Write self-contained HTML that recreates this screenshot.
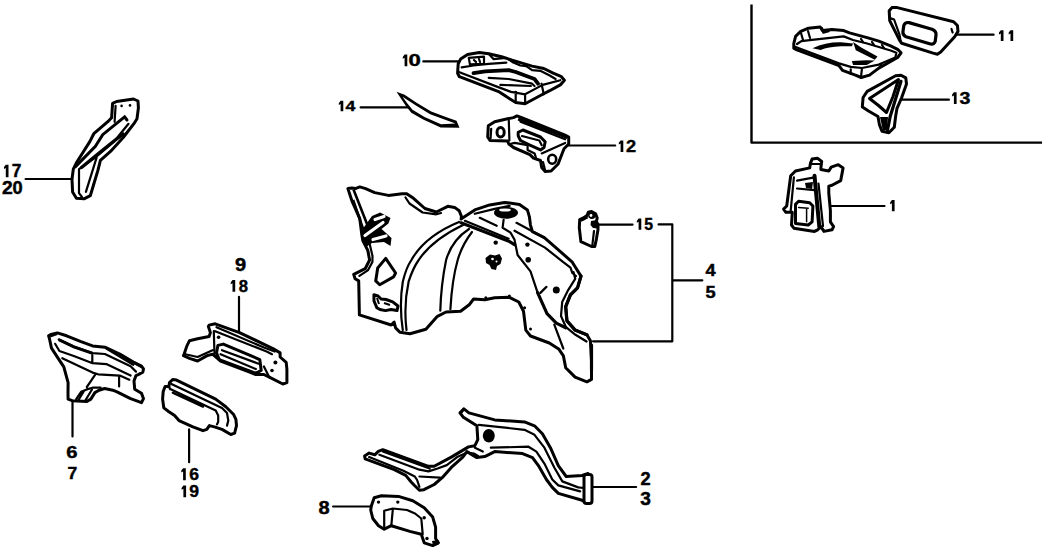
<!DOCTYPE html>
<html><head><meta charset="utf-8">
<style>
html,body{margin:0;padding:0;background:#fff;}
body{width:1051px;height:554px;overflow:hidden;position:relative;}
svg{position:absolute;left:0;top:0;}
.o{fill:#fff;stroke:#000;stroke-width:3;stroke-linejoin:round;stroke-linecap:round;}
.l{fill:none;stroke:#000;stroke-width:2.2;stroke-linecap:round;stroke-linejoin:round;}
.k{fill:#000;stroke:none;}
text{font-family:"Liberation Sans",sans-serif;font-weight:bold;font-size:18px;fill:#000;stroke:#000;stroke-width:0.45;}
</style></head><body>
<svg width="1051" height="554" viewBox="0 0 1051 554">
<!-- labels -->
<path class="k" d="M5.8 164.7H8.5V177.3H5.8V167.9L4.0 168.9V167.1Z"/>
<text transform="translate(11.64 177.30) scale(0.963 0.969)">7</text>
<text transform="translate(2.12 194.40) scale(1.075 0.969)">2</text>
<text transform="translate(12.39 194.40) scale(1.012 0.969)">0</text>
<text transform="translate(234.89 271.10) scale(1.113 0.969)">9</text>
<path class="k" d="M232.5 280.0H235.2V291.8H232.5V283.2L230.7 284.2V282.4Z"/>
<text transform="translate(238.67 291.80) scale(0.925 0.908)">8</text>
<text transform="translate(66.18 457.50) scale(1.125 0.938)">6</text>
<text transform="translate(67.53 478.60) scale(0.975 0.877)">7</text>
<path class="k" d="M183.1 468.2H185.8V480.3H183.1V471.4L181.3 472.4V470.6Z"/>
<text transform="translate(189.23 480.30) scale(0.975 0.931)">6</text>
<path class="k" d="M183.4 485.5H186.1V497.3H183.4V488.7L181.6 489.7V487.9Z"/>
<text transform="translate(189.23 497.30) scale(0.975 0.908)">9</text>
<text transform="translate(318.59 514.00) scale(1.113 1.046)">8</text>
<path class="k" d="M404.6 54.6H407.3V66.3H404.6V57.8L402.8 58.8V57.0Z"/>
<text transform="translate(408.47 66.30) scale(1.225 0.900)">0</text>
<path class="k" d="M340.6 100.8H343.3V111.2H340.6V104.0L338.8 105.0V103.2Z"/>
<text transform="translate(345.61 111.20) scale(0.988 0.800)">4</text>
<path class="k" d="M620.6 140.4H623.3V151.9H620.6V143.6L618.8 144.6V142.8Z"/>
<text transform="translate(625.89 151.90) scale(1.013 0.885)">2</text>
<path class="k" d="M638.6 218.5H641.3V229.8H638.6V221.7L636.8 222.7V220.9Z"/>
<text transform="translate(644.23 229.80) scale(0.875 0.869)">5</text>
<text transform="translate(705.39 276.30) scale(1.013 0.877)">4</text>
<text transform="translate(705.39 298.20) scale(1.013 0.908)">5</text>
<text transform="translate(640.39 484.90) scale(1.013 0.969)">2</text>
<text transform="translate(640.34 504.80) scale(1.062 0.969)">3</text>
<path class="k" d="M1000.8 30.2H1003.5V41.1H1000.8V33.4L999.0 34.4V32.6Z"/>
<path class="k" d="M1010.5 30.2H1013.2V41.1H1010.5V33.4L1008.7 34.4V32.6Z"/>
<path class="k" d="M953.9 92.2H956.6V104.0H953.9V95.4L952.1 96.4V94.6Z"/>
<text transform="translate(959.41 104.00) scale(1.088 0.908)">3</text>
<path class="k" d="M891.9 200.1H894.6V211.2H891.9V203.3L890.1 204.3V202.5Z"/>
<!-- leaders -->
<path class="l" d="M25.6 179H72 M239 296.8V332 M72.5 401V436.5 M189.1 429.4V462.2 M333.1 506.5H371.4 M423.3 61.4H458.5 M360.6 107.3H410 M567.9 145.5H615.2 M597 224.6H632.6 M658.6 224.4H672.3V341.3H593 M672.9 280.3H702.3 M592 487H636.1 M954.3 34.7H993.6 M901.5 99.7H948.9 M830.9 206H884.5"/>
<!-- box -->
<path d="M751.5 4.6V142.6H1042" fill="none" stroke="#000" stroke-width="2.4" stroke-linejoin="round"/>

<!-- part 17/20 -->
<path class="o" d="M76.4 198.2 L72.6 191.9 L72 179.2 L73.3 169.1 L76.4 162.8 L89.8 141.6 L93.8 133.7 L108.7 120.8 L111.6 117.8 L112.6 103.4 L116.6 101.5 L133.5 99 L138 101 L138.4 107.9 L137 118.8 L134.5 122.8 L123.2 137.5 L110.5 151.4 L100.4 160.3 L97.9 170.4 L90.3 195.7 L84 198.8 Z"/>
<path class="l" d="M115.6 105.9 L114.6 121.8 M79 169.1 L79 193.1 L82 197 M85.9 191.9 L96.6 157.7 M79 169.1 L96.6 156.5 L114.3 141.3 L128.5 123.8"/>
<path fill="none" stroke="#000" stroke-width="3" stroke-linecap="round" d="M75.5 166.6 L95.4 146.4 L102.7 134.7 L124.6 116.8 L127 120"/>
<path fill="none" stroke="#000" stroke-width="3.4" stroke-linecap="round" d="M81.5 167.5 L97.9 154 L114 141 L123.2 134"/>
<circle class="k" cx="121.6" cy="105.9" r="1.3"/><circle class="k" cx="130" cy="105.4" r="1.3"/>
<!-- part 6/7 -->
<path class="o" d="M48.6 335.8 L50.8 334.4 L57.3 332.9 L66.6 335.8 L81 341.6 L92.6 345.9 L104.9 347.2 L119.8 354 L133.3 362.1 L141.5 366.2 L143.5 368.9 L142.8 372.2 L138.8 374.3 L136 375.6 L134 381 L134.7 389.2 L141.5 393.2 L143.5 398.7 L141.5 402.7 L130.6 398.7 L117 391.9 L112.8 390.2 L104.6 388.5 L99 390.2 L94.9 392.6 L90.8 399.1 L86.8 401.5 L72.2 400.7 L68.1 399.1 L68 394.2 L68.1 382.7 L63.8 366.8 L58 358.2 L51.5 348.1 L49.3 338 Z"/>
<path class="l" d="M58.7 339.4 L73.8 346.6 L92.6 353.1 L104.9 354 L130.6 366.2 L136 371.6 M106.3 348.5 L133.3 364.8 M55.1 343.8 L59.4 351 L73.8 356 L92.6 363.2 L106.3 364.1 L130.6 375.6 M62.3 358.2 L92.6 372.6 L98.1 374.3 L119.8 375.6 L129.3 379.7 M119.1 377 V386.5 M92.3 355.3 V362.1 M95.4 374.3 L90 382.4 L86.8 387 M76.2 399.1 L81.1 391.8 L86.8 389.4 L92.5 387.7 L100.6 387.7 M78.5 400 L84 391 M85 401 L92 389.5"/>
<path fill="none" stroke="#000" stroke-width="3" d="M50 336 L57 333.5 M58.7 339.6 L73.8 346.8 L92.6 353.3 M133 362 L142 367"/>
<!-- part 9/18 -->
<path class="o" d="M209.1 325.1 L215.2 323.8 L239.5 332.6 L273.4 348.8 L280.1 352.9 L280.1 357 L286.2 362.4 L286.9 369.1 L286.9 382.6 L282.8 384 L269.3 377.2 L263.9 374.5 L255.8 374.5 L249 371.8 L220.6 361 L212.5 354.2 L207.1 355.6 L197.6 361 L189.5 358.3 L183.4 355.6 L184.1 354.2 L186.8 346.1 L189.5 340.7 L197.6 338.7 L209.1 336.6 L210.4 332.6 L208.4 326.5 Z"/>
<path class="l" d="M216.5 327.2 L263.9 347.5 L274.7 351.5 M215.2 331.2 L266.6 351.5 L272 354.2 M213.8 331.2 L214.5 354.2 M185.4 354.2 L197.6 357 L212.5 350.2 M263.9 366.4 L269.3 377.2 M222 350.2 L258.5 363.7 M220.6 354.2 L255.8 369.1"/>
<path class="o" d="M217.9 345.4 L223.3 344.1 L259.8 359.6 L261.2 370.5 L255.8 373.2 L219.2 359.6 L216.5 352.9 Z" style="fill:none"/>
<circle class="k" cx="218.6" cy="337.3" r="1.8"/><circle class="k" cx="275.4" cy="362.4" r="2"/><circle class="k" cx="272" cy="370.5" r="1.8"/>
<!-- part 16/19 -->
<path class="o" d="M169.5 382.6 L172.7 379.5 L176.5 380.1 L215.7 399.1 L225.8 406.7 L233.4 414.2 L235.9 419.3 L236.5 425.6 L234.6 433.2 L230.8 434.5 L222 429.4 L214.4 426.9 L209.4 425.6 L206.8 429.4 L203 430.7 L192.9 426.9 L179 420.6 L174.6 415.5 L168.9 411.7 L163.8 407.9 L162.6 399.1 L163.2 391.5 L165.1 386.4 L168.9 386.4 Z"/>
<path class="l" d="M171.4 383.9 L222 407.9 L227 413 L228.3 420.6 L227 425.6 M170.2 389 L215.7 410.4 L218.2 415.5 L218.2 421.8 L217 424.4 M172.7 392.8 L203 406.7 M169 386.5 L170 389"/>
<!-- part 10 -->
<path class="o" d="M458.2 63.8 L457.6 73.2 L459.4 76.7 L499.3 91.9 L506.3 96.6 L515.7 102.5 L525.1 103.7 L542.7 94.3 L549.7 90.7 L560.3 84.9 L564.4 80.2 L561.4 76.7 L553.2 73.2 L543.8 68.5 L532.1 66.1 L520.4 62.6 L512.2 60.2 L501.6 56.7 L488.7 53.8 L479.3 52.6 L467.6 54.4 L460.6 59.1 Z"/>
<path class="l" d="M488.7 53.8 L493.4 59.1 L506.3 57.9 L513.3 62.6 L520.4 65.5 L526.2 66.1 L532.1 70.2 L540.3 70.8 L549.7 75.5 L555.6 79 M488.7 77.8 L508.7 79 L532.1 83.7 L534.5 86 M500.4 84.9 L530.9 86 M461.7 67.3 L473.5 65.5 L488.7 63.8 L506.3 62.6 M468.8 57.9 L484 56.7 L484 63.8 L469.9 64.4 Z M458.8 72 L496.9 86.6 L511 91.9 L525.1 94.3 L542.7 84.9 L560.3 80.2 M515.7 91.9 L515.7 101.3 M525.1 94.3 L525.1 103 M541.5 83.7 L543.8 94.3 M474 60 L476 62 M479 59 L480 62"/>
<path fill="none" stroke="#000" stroke-width="3.8" stroke-linejoin="round" stroke-linecap="round" d="M473.5 73.2 L485.2 71.4 L508.7 70.2 L515.7 72 L534.5 79 L538 83.7"/>
<!-- part 14 -->
<path class="k" d="M396.5 91.8 L404.6 94.8 L416.6 102.8 L431.2 111.5 L447.2 117.5 L456.5 120.8 L459.5 127.8 L440.6 127.4 L423.2 119.4 L411.3 112.8 L405.9 106 Z"/>
<path fill="#fff" d="M402.5 96.8 L415.5 105.3 L430.2 114.2 L446.5 120.2 L455.5 123.6 L441 124.2 L424.5 117 L412.5 109.8 L407 103 Z"/>
<!-- part 12 -->
<path class="o" d="M488.3 125.8 L487.7 137 L490 140.5 L507.6 141.1 L508.8 144 L513.5 147.5 L529.9 154.6 L533.5 158.1 L540.5 160.5 L541.7 167.5 L545.2 171.6 L551.1 171 L558.1 164 L564 148.7 L568.7 144 L568.7 137 L565.1 135.2 L521.7 117.6 L517 115.9 L513.5 117.6 L507.6 118.8 L494.7 121.7 Z"/>
<path class="l" d="M508.8 120.6 L509.4 140.5 M491.2 128.8 L490.6 138.2 M520.5 121.7 L565.1 139.3 M522 136 L539.3 140.5 L541.7 145.2 M510 144 L514.7 142.9 L527.6 145.2 L527.6 149.9 L534.6 153.4 L536 158 M541.7 153.4 L565.1 142.9 M543 162 L545 170"/>
<path fill="none" stroke="#000" stroke-width="3.2" stroke-linejoin="round" d="M518.2 119 L567.5 137.5"/>
<path class="o" d="M518.2 132.3 L522.9 130 L540.5 137 L545.2 141.7 L544 147.5 L540.5 149.9 L529.9 145.2 L520.5 140.5 L518.2 135.8 Z" style="fill:none"/>
<ellipse cx="500.6" cy="132.3" rx="3.6" ry="4.8" fill="#fff" stroke="#000" stroke-width="3"/>
<ellipse cx="552.2" cy="159.3" rx="4" ry="4.5" fill="#fff" stroke="#000" stroke-width="2.6"/>
<!-- part 4/5 big -->
<path class="o" d="M347.9 188.6 L351.9 188 L355.3 188.6 L359.8 186.9 L365.6 188.6 L374.7 192.6 L388.4 195.4 L402.1 193.7 L406.7 193.7 L413.5 198.3 L424.9 208.5 L436.3 212 L447.8 206.3 L454.6 207.4 L459.2 210.8 L461.5 216.5 L461.1 219 L462.9 217.8 L474.8 209.9 L489.7 204.9 L504.6 202.4 L519.5 204.4 L527.4 209.9 L529.4 216.8 L530.4 224.8 L532.4 231.7 L544.3 237.7 L556.1 247.8 L572.3 262.2 L575.1 266.7 L581 276.1 L577.5 287.9 L570.4 294.9 L565.7 306.6 L566.9 320.7 L575.1 330.1 L586.9 334.8 L590.4 340.7 L591.5 360.6 L591.5 379.4 L586.9 381.8 L575.1 377.1 L565.7 367.7 L563.4 355.9 L558.7 348.9 L549.3 343 L530.5 336 L525.8 330.1 L523.5 311.3 L518.8 302 L509.4 297.3 L494.7 297.8 L484.8 299.8 L473.6 299 L469.2 304.8 L460.6 311.3 L446.1 312 L437.4 316.3 L425.9 329.3 L410 333.7 L399.9 332.2 L395.6 327.9 L394.1 322.1 L391.2 325 L359.4 314.9 L358.7 280.9 L355.1 278.8 L353.7 274.4 L365.2 268.7 L369.6 260 L367.8 250.4 L362.8 240.5 L361.8 234.5 L359.8 218.7 L351.9 200.8 Z"/>
<path class="l" d="M405.5 197.5 L409.5 203.5 L422.6 212.5 L436.3 214.3 L441 213 M369.8 244.5 L372.5 256 L372.4 262 L368.1 270.1 L359.4 275.9 M573.5 272 L575.2 278.8 L568.3 289.8 L562.2 302 L561 316 L566 327.2 L575.5 334.8 L586.5 341.5 M474.8 213.8 L494.7 208.9 L509.6 205.9 M464.9 220.8 L508.6 238.7 M479.8 217.8 L496.7 225.8 M503.6 219.8 L502.6 227.7 L510.6 232.7 L514.5 239.6 L517.6 255 L530.5 271.4 L537.6 292.6 M516.5 222.8 L544.3 237.7 M514.5 230.7 L545 247.6 L563.3 262.2 L570.5 267.6 L572.3 273 L576 276 M554.3 324.7 L563.3 348.5 M540.4 292.9 L546.4 286.9 M402.8 330 Q399 305 402.8 281.7 Q406 268 411.4 260 Q425 236 459 222 M406.5 330 Q403.5 305 408.6 281.7 Q413 268 418.7 260 Q432 240 463 225 M440.3 310.6 Q441 285 446.1 260 Q452 240 469 229 M450.4 309.1 Q452 280 457.7 260 Q462 245 472 232"/>
<path fill="none" stroke="#000" stroke-width="3.2" stroke-linejoin="round" stroke-linecap="round" d="M461 222.8 L509.6 241.6 L514.5 244.6 M537.6 292.6 L547 313.7 L556.3 323.1 L565.7 327.8 M581 276.1 L577.5 287.9 L570.4 294.9 L565.7 306.6 L566.9 320.7 L575.1 330.1 L586.9 334.8 M591.5 345 L591.5 370"/>
<path class="k" d="M362 230 L372 216 L380.2 212.6 L390.5 218 L388.4 223.5 L381.5 229 L386.6 233.5 L391.5 238 L390.5 246 L384 242 L372 243 L366 247 L361.5 239 Z"/>
<path fill="none" stroke="#fff" stroke-width="3.2" stroke-linecap="round" d="M365 235.5 L383 222.5 M373 239.5 L386 236 M375 219.5 L384 216.5"/>
<path fill="none" stroke="#000" stroke-width="2.6" d="M353.1 200 L363.1 228.9 M353.5 189.5 L367.8 226"/>
<path class="o" d="M385.7 258.4 L395.6 273 L393.6 276.9 L379.7 284.8 L375.7 280.9 L377.7 268 Z"/>
<path fill="#fff" stroke="#000" stroke-width="3" stroke-linejoin="round" d="M373.9 294.7 L378 296 L381.1 299 L386 299.5 L392.7 301.9 L398 306 L397 310.6 L391 309.5 L385.4 310.6 L380 309.5 L376.8 307.7 L374 301 Z"/><path fill="none" stroke="#000" stroke-width="2" d="M377 298 L379 304 M384 303 L390 305"/>
<ellipse class="k" cx="506" cy="212.8" rx="12" ry="6"/>
<ellipse cx="505" cy="210" rx="6" ry="1.6" fill="#fff"/>
<circle class="k" cx="495.7" cy="242.6" r="2.2"/><circle class="k" cx="527.4" cy="244.6" r="2.2"/><circle class="k" cx="528.2" cy="259.7" r="2.8"/>
<path class="k" d="M485.5 258 L490 254.5 L495 255.5 L499.5 254 L502 258.5 L500.5 264 L497 266 L496 270 L491.5 269 L489.5 265 L486 263 Z"/><circle cx="492.5" cy="259" r="1.3" fill="#fff"/><circle cx="496.5" cy="261.5" r="1" fill="#fff"/>
<circle class="k" cx="556.3" cy="289.9" r="3.5"/>
<circle class="k" cx="485.8" cy="297.8" r="1.5"/><circle class="k" cx="509.4" cy="296.1" r="1.5"/><circle class="k" cx="524.6" cy="307.8" r="1.5"/><circle class="k" cx="530.5" cy="329" r="1.5"/>
<!-- part 15 -->
<path class="o" d="M579.7 219.6 L583.4 218 L587 215.6 L588.3 212.3 L591.5 211.5 L595.6 213.9 L597.2 218 L596.4 221.3 L598 224.5 L598 229.4 L596.4 239.1 L594.8 246.5 L591.5 246.5 L580.9 241.6 L579.3 227.8 Z"/>
<path class="l" d="M594 231 L592.3 245.7"/>
<path class="k" d="M591 221 L597 220 L599 225 L598 228.5 L593 228 L590.5 225 Z M579.5 218.5 L587 215 L588 218.5 L583 221 L580 222 Z"/>
<circle class="k" cx="591.8" cy="215.5" r="3.6"/><circle cx="591" cy="215.5" r="1.4" fill="#fff"/><path fill="#fff" d="M586 219.5 L590 218 L589 221 L584 222.5 Z"/>
<!-- part 2/3 -->
<path class="o" d="M364.6 456 L369.1 453.1 L374.8 454.8 L378.3 451.4 L382.8 449.7 L428.5 466.3 L434.2 466.3 L451.3 457.1 L468.5 446.9 L474.9 445.7 L477.8 439.7 L476.9 425.8 L463 416.9 L460 412.9 L463.9 408.9 L468.9 412.9 L494.7 419.9 L524.5 421.9 L534.5 425.8 L542.4 433.8 L550.4 447.7 L558.3 465.6 L566.2 476.5 L582.1 475.5 L588.1 473.5 L591.1 476.5 L591.5 500 L588 503.3 L582.1 500.3 L558.3 493.4 L552.3 487.4 L546.4 479.5 L538.4 465.6 L532.5 457.6 L522.5 453.6 L494.7 451.6 L484.8 456.6 L476.9 457.6 L466.9 451.6 L462.8 457.1 L451.3 467.4 L442.2 477.7 L434.2 484.5 L423.9 489.7 L419.4 490.2 L414.8 485.7 L411.4 482.2 L405.7 475.4 L394.3 469.7 L365.1 458.8 Z"/>
<path class="l" d="M382.8 451.4 L429.6 468.5 M379.4 454.8 L419.4 469.7 L428.5 471.4 L437.6 468.5 L446.8 465.1 L457.1 457.1 L467.3 452.6 L474.2 453.7 L478 456 M369.1 457.1 L403.4 470.8 L414.8 476.5 L417.1 480 L419.4 486.8 M419.4 476.5 L440 477.7 M478.8 424.8 L524.5 429.8 L534.5 434.8 L544.4 447.7 L554.3 467.5 L562.3 481.4 L578.2 487.4 L584 488 M490.8 447.7 L528.5 446.7 L536.4 451.6 L544.4 463.6 L552.3 479.5 L558.3 485.4 L580.1 491.4 M474.9 447.7 L482.8 451.6 M463.9 408.9 L461 413"/>
<rect class="o" x="584" y="474.5" width="8" height="29" rx="2.5"/>
<ellipse class="k" cx="488.8" cy="435.8" rx="6" ry="6.8"/>
<!-- part 8 -->
<path class="o" d="M371.4 505.7 L374.2 497.8 L381.4 495.7 L398.5 496.4 L412.8 500.7 L424.2 507.8 L432.7 517.1 L435.6 527.1 L435.6 538.5 L438.4 542.8 L432.7 545.6 L424.2 542.8 L421.3 534.2 L409.9 531.4 L391.3 525.7 L384.2 529.2 L378.5 525.7 L372.8 518.5 L370.7 510 Z"/>
<path class="l" d="M384.2 527 L384.2 510.7 L392.8 508.5 L407 510 L415 513.5 L421.3 518.5 L422.7 534.2 M392.8 509.5 L391.3 525.7"/>
<circle class="k" cx="378.5" cy="502.1" r="1.7"/><circle class="k" cx="397.8" cy="502.1" r="1.7"/><circle class="k" cx="424.2" cy="517.8" r="1.7"/><circle class="k" cx="427" cy="538.5" r="1.7"/>
<path class="k" d="M432 541 L438.5 540 L439 544 L433 546.5 Z"/>
<!-- tray in box -->
<path class="o" d="M793.8 43.5 L793.8 48.2 L795.6 49.3 L839 65.7 L842.5 70.4 L855.4 75.1 L861.2 77.5 L869.5 75.1 L878.8 68.1 L897.6 57.5 L901.1 52.8 L897.6 49.3 L890.6 45.8 L878.8 41.1 L867.1 37.6 L849.5 32.9 L843.7 30.6 L831.9 29.4 L822.5 30.6 L820.2 27 L808.5 28.2 L800.2 31.7 L795.6 36.4 Z"/>
<path class="l" d="M795.6 47 L839 63.4 L850.7 66.9 L862 68 L878.8 64.6 L895.3 57.5 L896.4 52.8 L890.6 50.5 L867.1 43.5 L853 40 L843.7 36.4 L812 39.9 L801.4 41.1 L797 44 M850.7 69.3 L850.7 74 M862 68 L861 77 M801 33 L803 40 M808 31 L810 38"/>
<path class="k" d="M812.5 48.2 Q826 42 840.9 42.3 L853.1 43.6 L852 46.2 L840.9 46.3 Q828 47 820.6 50 Z"/>
<path class="k" d="M853.1 42.1 L861.2 47.6 L877.5 56.5 L874.8 59.7 L855.8 50.2 Z"/>
<path class="k" d="M851.8 61 L866.7 60.2 L874.8 60.6 L866.7 65.1 L853.1 65.1 Z"/>
<path class="l" d="M861 39 L863 42 M872 42 L874 45 M882 45 L884 48 M822 28 L823.3 32.6 L828.7 31.2"/>
<circle class="k" cx="880.6" cy="64.6" r="1.6"/>
<!-- part 11 -->
<path class="o" d="M889.2 10.8 L891.9 7.6 L897.3 7.6 L953.6 21.7 L957.4 25.5 L958 31.4 L954.7 36.8 L940.7 52 L937.4 54.2 L933.1 53.1 L901.7 43.3 L899.5 40.1 L889.7 20.6 Z"/>
<path class="l" d="M890.8 18.4 L894.1 19.5 L899.5 34.7 L900.6 41.2 M951.5 29 L952.6 32.5"/>
<path class="o" d="M903.8 25.5 Q905 22 909 22.6 L932 29.2 Q936.5 31 936 35 L935.2 41.5 Q934 44.6 930.5 44 L906 36.8 Q902.7 35 902.9 32 Z" style="stroke-width:3.2"/>

<!-- part 13 -->
<path class="o" d="M862.4 105.6 L863.1 97.5 L867.2 91.4 L895.6 75.8 L901 75.2 L905.8 77.9 L906.5 84 L901.7 97.5 L897 108.3 L895.6 116.5 L894.3 127.3 L888.9 132.7 L882.1 131.4 L879.4 124.6 L878 116.5 L868.5 111 L862.4 107 Z"/>
<path class="o" d="M869.5 98.5 L898.5 79.5 L893 96.5 L886.5 112.5 L878.5 105.5 Z"/>
<path fill="none" stroke="#000" stroke-width="3.2" stroke-linecap="round" d="M901 81.3 L890.2 116.5 L887.5 130"/>
<path class="k" d="M880 117 L888 117 L887 130 L883 131 Z"/>
<!-- part 1 -->
<path class="o" d="M810.5 163.1 L812.1 159.1 L817.7 158.3 L821.7 161.5 L820.9 167.9 L820.9 169.5 L828.8 171 L831.2 167.1 L838.3 164.7 L843.1 167.9 L840.7 180.6 L832 185.3 L828.8 186.1 L828.8 193.3 L830.4 210.7 L830.4 221.8 L833.6 226.6 L832 229.8 L824 231.4 L820.9 226.6 L817.7 229.8 L814.5 231.4 L793.9 228.2 L791.5 225 L792.3 212.3 L785.9 212.3 L783.6 209.1 L786.7 206 L790.7 175.8 L795.5 171 L809.7 167.9 Z"/>
<path class="l" d="M818.5 183.7 L823 226 M797 180.6 L814.5 177.4 M793.9 177.4 L790.7 210.7 M797 188.5 L814.5 190.1 M810 164 L820 164"/>
<path fill="none" stroke="#000" stroke-width="4" stroke-linecap="round" d="M814.5 175.8 L819.3 226.6"/>
<path class="o" d="M795.5 204.4 L798.6 201.2 L809.7 202.8 L812.9 206 L812.1 221.8 L808.2 225 L795.5 223.4 Z" stroke-width="3"/>
<path class="l" d="M798.6 207.6 L808.2 208.3 M806.6 208.5 L806.6 221.8" style="stroke-width:1.5"/>
<path class="k" d="M805 183 L813 182 L812 189 L806 188 Z"/>
</svg></svg>
</body></html>
